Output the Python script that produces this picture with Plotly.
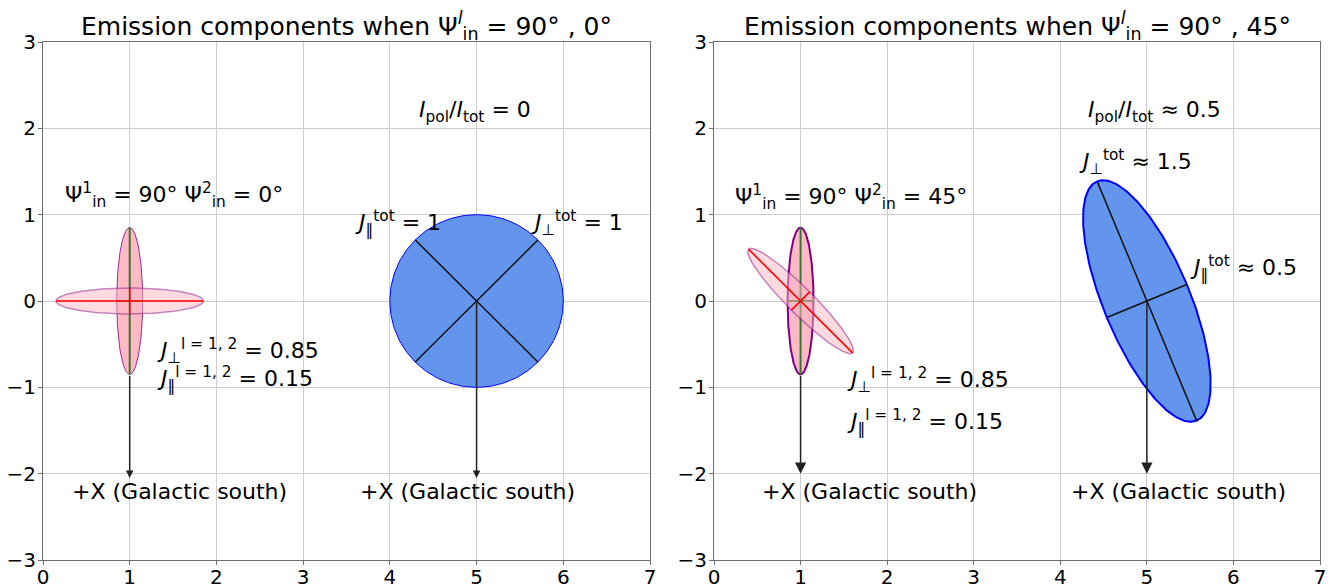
import numpy as np
import plotly.graph_objects as go

# ---------------- data ----------------
x_ticks = [0, 1, 2, 3, 4, 5, 6, 7]
y_ticks = [-3, -2, -1, 0, 1, 2, 3]

comp_center = [1, 0]
comp_semi_major = [0.85, 0.85]          # J_perp^{l=1,2}
comp_semi_minor = [0.15, 0.15]          # J_par^{l=1,2}
left_comp_angles = [90, 0]              # orientation of major axes (deg)
right_comp_angles = [90, 135]

tot_center = [5, 0]
left_tot_axes = [1.0, 1.0]              # J_perp^tot, J_par^tot
left_tot_angle = 45
right_tot_axes = [1.5, 0.5]
right_tot_angle = 112.5

arrow_tip_y = [-2.05, -2.0]             # left panel, right panel
arrow_x = [1, 5]

titles = ["Emission components when Ψ<sup><i>l</i></sup><sub>in</sub> = 90° , 0°",
          "Emission components when Ψ<sup><i>l</i></sup><sub>in</sub> = 90° , 45°"]

PAR = "‖"
PERP = "⊥"
label_panel = [0, 0, 0, 0, 0, 0, 0, 0,
               1, 1, 1, 1, 1, 1, 1, 1]
label_x = [0.23, 1.29, 1.29, 4.31, 3.58, 5.60, 0.31, 3.63,
           0.22, 1.51, 1.51, 4.30, 4.19, 5.47, 0.53, 4.10]
label_y = [1.23, -0.58, -0.90, 2.19, 0.90, 0.90, -2.21, -2.21,
           1.21, -0.92, -1.40, 2.19, 1.61, 0.38, -2.21, -2.21]
label_text = [
    "Ψ<sup>1</sup><sub>in</sub> = 90° Ψ<sup>2</sup><sub>in</sub> = 0°",
    f"<i>J</i><sub>{PERP}</sub><sup>l = 1, 2</sup> = 0.85",
    f"<i>J</i><sub>{PAR}</sub><sup>l = 1, 2</sup> = 0.15",
    "<i>I</i><sub>pol</sub>/<i>I</i><sub>tot</sub> = 0",
    f"<i>J</i><sub>{PAR}</sub><sup>tot</sup> = 1",
    f"<i>J</i><sub>{PERP}</sub><sup>tot</sup> = 1",
    "+X (Galactic south)",
    "+X (Galactic south)",
    "Ψ<sup>1</sup><sub>in</sub> = 90° Ψ<sup>2</sup><sub>in</sub> = 45°",
    f"<i>J</i><sub>{PERP}</sub><sup>l = 1, 2</sup> = 0.85",
    f"<i>J</i><sub>{PAR}</sub><sup>l = 1, 2</sup> = 0.15",
    "<i>I</i><sub>pol</sub>/<i>I</i><sub>tot</sub> ≈ 0.5",
    f"<i>J</i><sub>{PERP}</sub><sup>tot</sup> ≈ 1.5",
    f"<i>J</i><sub>{PAR}</sub><sup>tot</sup> ≈ 0.5",
    "+X (Galactic south)",
    "+X (Galactic south)",
]

# ---------------- layout geometry (page pixels; body has 8px margin) ----------------
FONT = "DejaVu Sans"
OFF = 8
W, H = 1336 - OFF, 588 - OFF
px_l0, px_l1 = 43 - OFF, 650 - OFF
px_r0, px_r1 = 714 - OFF, 1320 - OFF
py_top, py_bot = 42 - OFF, 560 - OFF
ML, MR, MT, MB = px_l0, W - px_r1, py_top, H - py_bot
PW = W - ML - MR
PH = H - MT - MB
TITLE_Y_PAGE = 26


def ellipse_xy(c, a, b, ang_deg, n=240):
    t = np.linspace(0, 2 * np.pi, n)
    th = np.deg2rad(ang_deg)
    x = c[0] + a * np.cos(t) * np.cos(th) - b * np.sin(t) * np.sin(th)
    y = c[1] + a * np.cos(t) * np.sin(th) + b * np.sin(t) * np.cos(th)
    return x, y


def axis_seg(c, length, ang_deg):
    th = np.deg2rad(ang_deg)
    return ([c[0] - length * np.cos(th), c[0] + length * np.cos(th)],
            [c[1] - length * np.sin(th), c[1] + length * np.sin(th)])


fig = go.Figure()


def add_ellipse(xa, ya, c, a, b, ang, fill, edge, ew):
    x, y = ellipse_xy(c, a, b, ang)
    fig.add_trace(go.Scatter(x=x, y=y, mode="lines", fill="toself", fillcolor=fill,
                             line=dict(color=edge, width=ew), xaxis=xa, yaxis=ya,
                             hoverinfo="skip", showlegend=False))


def add_seg(xa, ya, c, length, ang, color, w):
    x, y = axis_seg(c, length, ang)
    fig.add_trace(go.Scatter(x=x, y=y, mode="lines", line=dict(color=color, width=w),
                             xaxis=xa, yaxis=ya, hoverinfo="skip", showlegend=False))


GREEN = "rgb(60,115,55)"
PINK_A = "rgba(255,178,192,0.9)"
PINK_B = "rgba(255,182,193,0.5)"

panels = [("x", "y", left_comp_angles, left_tot_axes, left_tot_angle, 1.0, 1.0),
          ("x2", "y2", right_comp_angles, right_tot_axes, right_tot_angle, 2.0, 2.0)]

for pi, (xa, ya, cang, taxes, tang, vew, bew) in enumerate(panels):
    add_ellipse(xa, ya, comp_center, comp_semi_major[0], comp_semi_minor[0], cang[0],
                PINK_A, "rgba(128,0,128,0.8)" if pi == 0 else "purple", vew)
    add_seg(xa, ya, comp_center, comp_semi_major[0], cang[0], GREEN, 2)
    add_seg(xa, ya, comp_center, comp_semi_minor[0], cang[0] + 90, GREEN, 2)
    add_ellipse(xa, ya, comp_center, comp_semi_major[1], comp_semi_minor[1], cang[1],
                PINK_B, "rgba(128,0,128,0.45)", 1.5)
    add_seg(xa, ya, comp_center, comp_semi_major[1], cang[1], "red", 1.6)
    add_seg(xa, ya, comp_center, comp_semi_minor[1], cang[1] + 90, "red", 1.6)
    add_ellipse(xa, ya, tot_center, taxes[0], taxes[1], tang,
                "rgb(100,149,237)", "blue", bew)
    add_seg(xa, ya, tot_center, taxes[0], tang, "#111", 1.5)
    add_seg(xa, ya, tot_center, taxes[1], tang + 90, "#111", 1.5)

annotations = []
for pi, (xr, yr) in enumerate([("x", "y"), ("x2", "y2")]):
    for k, ax_x in enumerate(arrow_x):
        tail_y = -comp_semi_major[0] if k == 0 else tot_center[1]
        annotations.append(dict(
            x=ax_x, y=arrow_tip_y[pi], ax=ax_x, ay=tail_y, xref=xr, yref=yr,
            axref=xr, ayref=yr, showarrow=True, arrowhead=2,
            arrowsize=1.0 if pi == 0 else 1.5, arrowwidth=1.5, arrowcolor="#222",
            text=""))

for p, x, y, t in zip(label_panel, label_x, label_y, label_text):
    annotations.append(dict(x=x, y=y, xref="x" if p == 0 else "x2",
                            yref="y" if p == 0 else "y2", text=t, showarrow=False,
                            xanchor="left", yanchor="middle",
                            font=dict(family=FONT, size=22, color="black")))

for p, t in enumerate(titles):
    cxp = ((px_l0 + px_l1) / 2 if p == 0 else (px_r0 + px_r1) / 2)
    annotations.append(dict(x=(cxp - ML) / PW, y=1 + (MT - (TITLE_Y_PAGE - OFF)) / PH,
                            xref="paper", yref="paper", text=t,
                            showarrow=False, xanchor="center", yanchor="middle",
                            font=dict(family=FONT, size=25, color="black")))

axis_common = dict(showgrid=True, gridcolor="rgb(205,205,205)", gridwidth=1,
                   zeroline=False, showline=True, linecolor="rgb(110,110,110)",
                   linewidth=1, mirror=True, ticks="outside", ticklen=4,
                   tickcolor="rgb(110,110,110)", automargin=False,
                   tickfont=dict(family=FONT, size=20, color="black"))

fig.update_layout(
    width=W, height=H, margin=dict(l=ML, r=MR, t=MT, b=MB, autoexpand=False),
    paper_bgcolor="white", plot_bgcolor="white", showlegend=False,
    xaxis=dict(domain=[0, (px_l1 - ML) / PW], range=[0, 7], tickvals=x_ticks,
               anchor="y", ticklabelstandoff=-5, **axis_common),
    yaxis=dict(domain=[0, 1], range=[-3, 3], tickvals=y_ticks, anchor="x",
               ticklabelstandoff=-2, **axis_common),
    xaxis2=dict(domain=[(px_r0 - ML) / PW, 1], range=[0, 7], tickvals=x_ticks,
                anchor="y2", ticklabelstandoff=-5, **axis_common),
    yaxis2=dict(domain=[0, 1], range=[-3, 3], tickvals=y_ticks, anchor="x2",
                ticklabelstandoff=-2, **axis_common),
    annotations=annotations,
)

fig.write_html("out.html")
